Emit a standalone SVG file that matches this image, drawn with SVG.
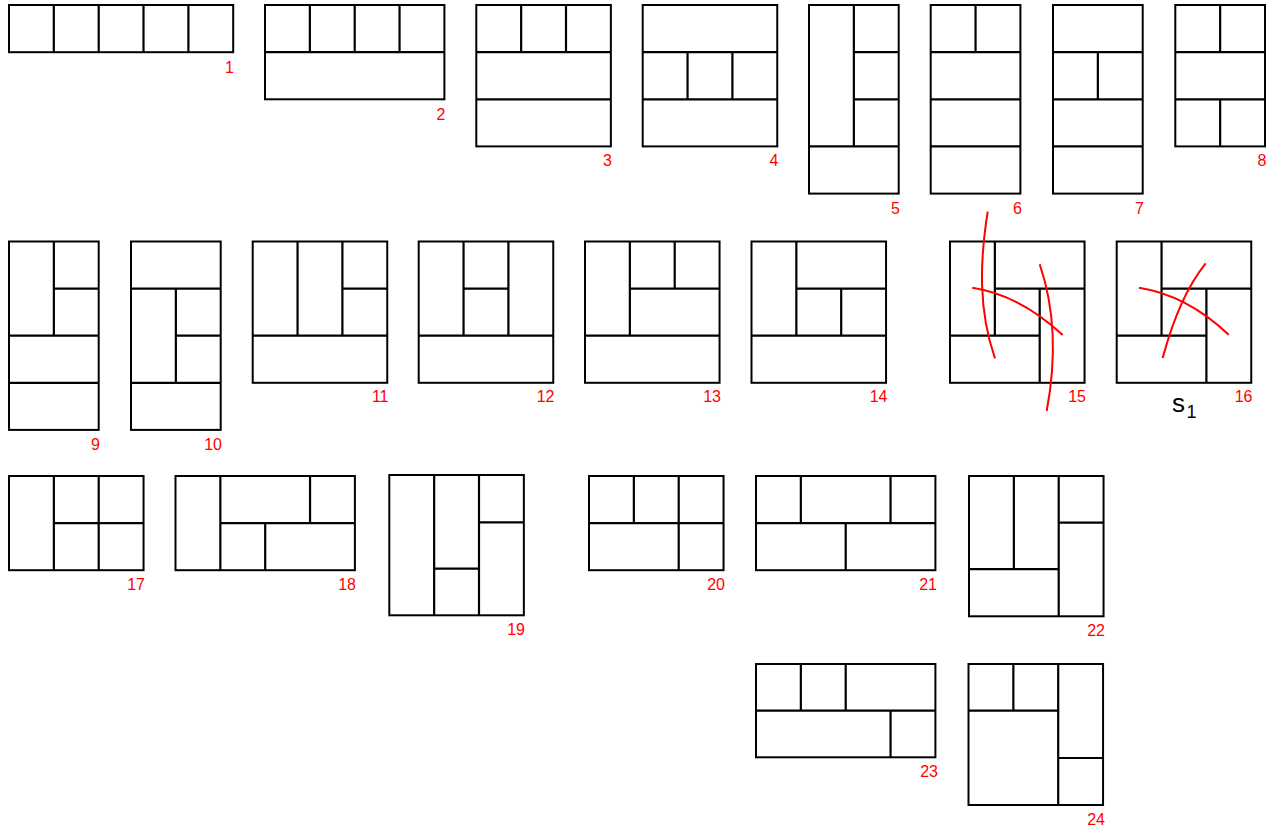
<svg xmlns="http://www.w3.org/2000/svg" width="1267" height="829" viewBox="0 0 1267 829">
<style>
.b{fill:none;stroke:#000;stroke-width:2}
.l{stroke:#000;stroke-width:2.2;fill:none}
.r{fill:none;stroke:#ff0000;stroke-width:2}
.n{font-family:"Liberation Sans",Arial,sans-serif;font-size:16px;fill:#ff0000;text-anchor:end}
.s{font-family:"Liberation Sans",Arial,sans-serif;fill:#000}
</style>
<rect width="1267" height="829" fill="#fff"/>
<!-- Row 1 -->
<g id="fig1">
<rect class="b" x="9" y="5" width="224.2" height="47.2"/>
<path class="l" d="M53.8,5V52.2M98.7,5V52.2M143.5,5V52.2M188.4,5V52.2"/>
<text class="n" x="234" y="73">1</text>
</g>
<g id="fig2">
<rect class="b" x="265" y="5" width="179.4" height="94.3"/>
<path class="l" d="M309.85,5V52.2M354.7,5V52.2M399.55,5V52.2M265,52.2H444.4"/>
<text class="n" x="445.5" y="119.5">2</text>
</g>
<g id="fig3">
<rect class="b" x="476.3" y="5" width="134.55" height="141.4"/>
<path class="l" d="M521.15,5V52.2M566,5V52.2M476.3,52.2H610.85M476.3,99.3H610.85"/>
<text class="n" x="612" y="166">3</text>
</g>
<g id="fig4">
<rect class="b" x="642.7" y="5" width="134.55" height="141.4"/>
<path class="l" d="M642.7,52.2H777.25M642.7,99.3H777.25M687.55,52.2V99.3M732.4,52.2V99.3"/>
<text class="n" x="778.5" y="166">4</text>
</g>
<g id="fig5">
<rect class="b" x="809" y="5" width="89.7" height="188.6"/>
<path class="l" d="M853.85,5V146.4M853.85,52.2H898.7M853.85,99.3H898.7M809,146.4H898.7"/>
<text class="n" x="900" y="213.5">5</text>
</g>
<g id="fig6">
<rect class="b" x="930.7" y="5" width="89.7" height="188.6"/>
<path class="l" d="M975.55,5V52.2M930.7,52.2H1020.4M930.7,99.3H1020.4M930.7,146.4H1020.4"/>
<text class="n" x="1022" y="213.5">6</text>
</g>
<g id="fig7">
<rect class="b" x="1053" y="5" width="89.7" height="188.6"/>
<path class="l" d="M1053,52.2H1142.7M1053,99.3H1142.7M1053,146.4H1142.7M1097.85,52.2V99.3"/>
<text class="n" x="1144" y="213.5">7</text>
</g>
<g id="fig8">
<rect class="b" x="1175.3" y="5" width="89.7" height="141.4"/>
<path class="l" d="M1220.15,5V52.2M1220.15,99.3V146.4M1175.3,52.2H1265M1175.3,99.3H1265"/>
<text class="n" x="1266.5" y="166">8</text>
</g>
<!-- Row 2 -->
<g id="fig9">
<rect class="b" x="9" y="241.5" width="89.7" height="188.4"/>
<path class="l" d="M53.85,241.5V335.7M53.85,288.6H98.7M9,335.7H98.7M9,382.8H98.7"/>
<text class="n" x="100" y="449.5">9</text>
</g>
<g id="fig10">
<rect class="b" x="131" y="241.5" width="89.7" height="188.4"/>
<path class="l" d="M131,288.6H220.7M175.85,288.6V382.8M175.85,335.7H220.7M131,382.8H220.7"/>
<text class="n" x="222" y="449.5">10</text>
</g>
<g id="fig11">
<rect class="b" x="252.7" y="241.5" width="134.55" height="141.3"/>
<path class="l" d="M297.55,241.5V335.7M342.4,241.5V335.7M342.4,288.6H387.25M252.7,335.7H387.25"/>
<text class="n" x="388.5" y="402">11</text>
</g>
<g id="fig12">
<rect class="b" x="418.7" y="241.5" width="134.55" height="141.3"/>
<path class="l" d="M463.55,241.5V335.7M508.4,241.5V335.7M463.55,288.6H508.4M418.7,335.7H553.25"/>
<text class="n" x="554.5" y="402">12</text>
</g>
<g id="fig13">
<rect class="b" x="585" y="241.5" width="134.55" height="141.3"/>
<path class="l" d="M629.85,241.5V335.7M674.7,241.5V288.6M629.85,288.6H719.55M585,335.7H719.55"/>
<text class="n" x="721" y="402">13</text>
</g>
<g id="fig14">
<rect class="b" x="751.5" y="241.5" width="134.55" height="141.3"/>
<path class="l" d="M796.35,241.5V335.7M796.35,288.6H886.05M841.2,288.6V335.7M751.5,335.7H886.05"/>
<text class="n" x="887.5" y="402">14</text>
</g>
<g id="fig15">
<rect class="b" x="950" y="241.5" width="134.55" height="141.3"/>
<path class="l" d="M994.85,241.5V335.7M994.85,288.6H1084.55M1039.7,288.6V382.8M950,335.7H1039.7"/>
<path class="r" d="M987.7,211.7C980,260 978,310 995,358.3"/>
<path class="r" d="M972.3,287.7Q1020,295 1062.7,335"/>
<path class="r" d="M1039.7,264.3Q1062,330 1046.7,411"/>
<text class="n" x="1086" y="402">15</text>
</g>
<g id="fig16">
<rect class="b" x="1116.7" y="241.5" width="134.55" height="141.3"/>
<path class="l" d="M1161.55,241.5V335.7M1161.55,288.6H1251.25M1206.4,288.6V382.8M1116.7,335.7H1206.4"/>
<path class="r" d="M1139,287.7Q1186.7,295 1228.7,334.7"/>
<path class="r" d="M1205.7,263.3Q1179.2,296 1162.7,358"/>
<text class="n" x="1252.5" y="402">16</text>
<text class="s" x="1172" y="411.7" font-size="26">s</text>
<text class="s" x="1186.5" y="418.3" font-size="18">1</text>
</g>
<!-- Row 3 -->
<g id="fig17">
<rect class="b" x="9" y="476" width="134.55" height="94.2"/>
<path class="l" d="M53.85,476V570.2M98.7,476V570.2M53.85,523.1H143.55"/>
<text class="n" x="145" y="589.5">17</text>
</g>
<g id="fig18">
<rect class="b" x="175.5" y="476" width="179.4" height="94.2"/>
<path class="l" d="M220.35,476V570.2M220.35,523.1H354.9M310.05,476V523.1M265.2,523.1V570.2"/>
<text class="n" x="356" y="589.5">18</text>
</g>
<g id="fig19">
<rect class="b" x="389.3" y="475" width="134.55" height="140.3"/>
<path class="l" d="M434.15,475V615.3M479,475V615.3M479,522.3H523.85M434.15,568.7H479"/>
<text class="n" x="525" y="635">19</text>
</g>
<g id="fig20">
<rect class="b" x="589" y="476" width="134.55" height="94.2"/>
<path class="l" d="M633.85,476V523.1M678.7,476V570.2M589,523.1H723.55"/>
<text class="n" x="725" y="589.5">20</text>
</g>
<g id="fig21">
<rect class="b" x="756" y="476" width="179.4" height="94.2"/>
<path class="l" d="M800.85,476V523.1M890.55,476V523.1M756,523.1H935.4M845.7,523.1V570.2"/>
<text class="n" x="937" y="589.5">21</text>
</g>
<g id="fig22">
<rect class="b" x="969" y="476" width="134.55" height="140.3"/>
<path class="l" d="M1013.85,476V569.2M1058.7,476V616.3M1058.7,522.6H1103.55M969,569.2H1058.7"/>
<text class="n" x="1105" y="636">22</text>
</g>
<!-- Row 4 -->
<g id="fig23">
<rect class="b" x="756" y="664" width="179.4" height="93.3"/>
<path class="l" d="M800.85,664V710.7M845.7,664V710.7M756,710.7H935.4M890.55,710.7V757.3"/>
<text class="n" x="938" y="776.7">23</text>
</g>
<g id="fig24">
<rect class="b" x="968.5" y="664" width="134.55" height="141"/>
<path class="l" d="M1013.35,664V710.7M968.5,710.7H1058.2M1058.2,664V805M1058.2,758H1103.05"/>
<text class="n" x="1105" y="825">24</text>
</g>
</svg>
